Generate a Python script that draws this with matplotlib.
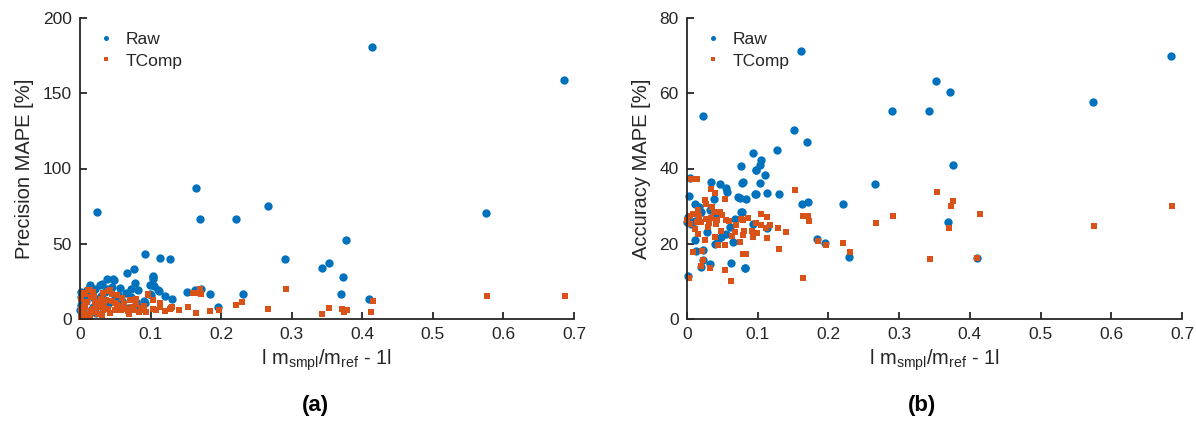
import numpy as np
import matplotlib
matplotlib.use("Agg")
import matplotlib.pyplot as plt

plt.rcParams['font.family'] = ['Liberation Sans', 'DejaVu Sans']
plt.rcParams['mathtext.fontset'] = 'custom'
plt.rcParams['mathtext.rm'] = 'Liberation Sans'
plt.rcParams['mathtext.it'] = 'Liberation Sans'

BLUE = '#0072BD'
ORANGE = '#D95319'
DARK = '#262626'

# ---- panel (a): precision MAPE ----
prec_raw_x = [0.414, 0.686, 0.576, 0.377, 0.353, 0.343, 0.372, 0.370, 0.410,
              0.164, 0.170, 0.2206, 0.267, 0.1128, 0.128, 0.2905, 0.103, 0.103,
              0.112, 0.1515, 0.163, 0.172, 0.184, 0.130, 0.1955, 0.2305, 0.101,
              0.0244, 0.0925, 0.067, 0.0763, 0.1033, 0.0386, 0.048, 0.0465, 0.0773,
              0.0986, 0.056, 0.082, 0.110, 0.0925, 0.0135, 0.0206, 0.0017, 0.000,
              0.031, 0.0726, 0.0986, 0.0277, 0.0145, 0.002, 0.008, 0.012, 0.018,
              0.030, 0.045, 0.060, 0.065, 0.040, 0.085, 0.020, 0.035, 0.005, 0.025,
              0.001, 0.010, 0.016, 0.022, 0.050, 0.058, 0.072, 0.090, 0.105, 0.120,
              0.003, 0.028, 0.038, 0.054, 0.068, 0.080]
prec_raw_y = [180.7, 158.8, 70.5, 52.5, 37.2, 33.7, 28.1, 16.3, 13.5,
              87.0, 66.5, 66.5, 75.0, 40.8, 39.7, 39.9, 28.3, 26.5,
              18.5, 17.9, 19.0, 20.1, 16.8, 13.5, 7.9, 16.5, 15.7,
              71.0, 43.0, 30.5, 33.5, 27.9, 26.8, 26.1, 26.8, 24.1,
              22.3, 20.8, 19.0, 19.0, 10.5, 22.3, 20.1, 14.5, 5.7,
              23.5, 14.5, 16.8, 22.3, 21.2, 9.0, 12.0, 16.0, 8.0,
              15.0, 21.0, 12.0, 17.0, 10.0, 8.0, 14.0, 18.0, 3.0, 11.0,
              18.0, 19.0, 6.0, 4.0, 14.0, 9.0, 20.0, 12.0, 22.0, 15.0,
              12.0, 9.0, 20.0, 16.0, 7.0, 11.0]

prec_tc_x = [0.343, 0.353, 0.371, 0.374, 0.378, 0.412, 0.415, 0.577, 0.687,
             0.164, 0.172, 0.1695, 0.2915, 0.1525, 0.164, 0.1847, 0.1965, 0.2215,
             0.230, 0.267, 0.128, 0.130, 0.113, 0.114, 0.104, 0.103,
             0.004, 0.0135, 0.018, 0.0394, 0.045, 0.0528, 0.030, 0.037, 0.0206,
             0.0064, 0.0017, 0.0088, 0.0206, 0.0323, 0.039, 0.049, 0.058, 0.068,
             0.077, 0.084, 0.063, 0.080, 0.097, 0.103, 0.114, 0.114, 0.094,
             0.129, 0.153, 0.160, 0.016, 0.025, 0.0135, 0.0064, 0.049, 0.011,
             0.042, 0.080, 0.096, 0.003, 0.026, 0.055, 0.070, 0.088,
             0.001, 0.007, 0.012, 0.020, 0.027, 0.034, 0.043, 0.060, 0.074, 0.086,
             0.002, 0.015, 0.023, 0.031, 0.046, 0.065, 0.090, 0.108, 0.120, 0.140,
             0.005, 0.010, 0.019, 0.033, 0.052, 0.071]
prec_tc_y = [3.2, 7.2, 6.5, 4.5, 5.9, 4.5, 11.9, 15.2, 15.2,
             17.4, 16.8, 20.1, 19.9, 7.9, 3.9, 5.2, 5.7, 9.2,
             11.2, 6.5, 6.8, 7.9, 8.3, 10.8, 12.3, 6.8,
             17.2, 19.5, 17.9, 18.5, 16.8, 15.7, 13.5, 12.3, 11.2,
             10.1, 5.7, 2.3, 4.5, 5.7, 6.8, 6.1, 5.7, 5.2,
             5.7, 4.5, 10.1, 9.7, 16.3, 12.3, 10.1, 7.9, 4.5,
             7.5, 7.9, 17.2, 14.5, 7.9, 1.2, 16.8, 10.5, 19.0,
             19.5, 13.5, 15.7, 8.0, 3.0, 8.5, 3.5, 6.0,
             13.0, 8.0, 3.5, 15.0, 11.0, 9.0, 4.0, 14.0, 8.0, 7.0,
             1.5, 5.0, 9.5, 2.5, 12.0, 6.5, 8.5, 6.0, 5.0, 6.0,
             4.5, 11.5, 6.5, 17.0, 9.0, 12.5]

# ---- panel (b): accuracy MAPE ----
acc_raw_x = [0.6846, 0.352, 0.3715, 0.290, 0.3427, 0.574, 0.3758, 0.2664, 0.369, 0.410,
             0.161, 0.0226, 0.1513, 0.170, 0.1277, 0.093, 0.104, 0.103, 0.0976, 0.1108,
             0.0764, 0.0788, 0.103, 0.0966, 0.1127, 0.1297, 0.0834, 0.075, 0.162, 0.1716,
             0.220, 0.077, 0.093, 0.1127, 0.1835, 0.1957, 0.2296, 0.082,
             0.0038, 0.0028, 0.0344, 0.047, 0.0547, 0.0566, 0.0378, 0.0109, 0.017, 0.032,
             0.078, 0.072, 0.098, 0.097, 0.000, 0.006, 0.020, 0.078, 0.0604,
             0.0485, 0.0109, 0.044, 0.065, 0.013, 0.0226, 0.020, 0.032, 0.0627, 0.0816,
             0.0014, 0.0226, 0.039, 0.001, 0.012, 0.028, 0.040, 0.055, 0.068]
acc_raw_y = [70.0, 63.2, 60.3, 55.2, 55.3, 57.8, 40.8, 35.8, 25.9, 16.3,
             71.1, 53.9, 50.3, 47.0, 44.8, 44.1, 42.3, 40.8, 39.5, 38.4,
             40.7, 36.3, 36.1, 33.2, 33.6, 33.2, 31.9, 32.2, 30.6, 31.2,
             30.5, 28.5, 25.3, 24.3, 21.3, 20.3, 16.4, 13.6,
             37.6, 32.6, 36.4, 35.8, 34.9, 33.7, 32.0, 30.6, 29.9, 29.0,
             36.1, 32.4, 39.5, 33.3, 25.7, 25.3, 28.4, 28.4, 24.4,
             21.9, 20.9, 21.3, 20.4, 18.2, 18.4, 13.8, 14.5, 14.8, 13.6,
             11.3, 15.6, 20.0, 27.0, 26.0, 23.0, 27.5, 22.5, 26.5]

acc_tc_x = [0.353, 0.376, 0.373, 0.4145, 0.291, 0.267, 0.370, 0.343, 0.410, 0.5757, 0.686,
            0.1528, 0.1636, 0.171, 0.1726, 0.104, 0.1127, 0.077, 0.0976, 0.104, 0.1287,
            0.1117, 0.0806, 0.0915, 0.0986, 0.0797, 0.093, 0.1127, 0.075, 0.1297, 0.0797,
            0.0834, 0.185, 0.1966, 0.220, 0.2305, 0.1636,
            0.006, 0.0141, 0.0344, 0.039, 0.025, 0.0264, 0.0358, 0.0533, 0.0156, 0.0378,
            0.0038, 0.047, 0.017, 0.0273, 0.0344, 0.0556, 0.0038, 0.020, 0.0415, 0.0697,
            0.0109, 0.0297, 0.0485, 0.079, 0.0674, 0.0156, 0.039, 0.025, 0.044, 0.0533,
            0.0085, 0.0216, 0.079, 0.0226, 0.020, 0.032, 0.0533, 0.0627, 0.0028, 0.000,
            0.008, 0.014, 0.031, 0.042, 0.050, 0.060, 0.064, 0.086, 0.118, 0.140]
acc_tc_y = [33.7, 31.3, 30.0, 27.9, 27.3, 25.5, 24.1, 15.9, 16.3, 24.7, 30.0,
            34.2, 27.3, 27.3, 26.0, 27.8, 27.1, 26.6, 25.5, 25.1, 24.1,
            24.1, 23.5, 23.4, 22.8, 22.2, 21.8, 21.5, 20.4, 18.6, 17.3,
            17.3, 20.7, 19.8, 20.3, 17.7, 10.9,
            37.3, 37.3, 34.6, 33.5, 31.7, 30.6, 29.7, 32.0, 29.0, 28.4,
            27.3, 28.4, 27.3, 26.6, 26.9, 26.2, 25.3, 25.7, 25.3, 24.9,
            24.0, 24.4, 23.5, 26.4, 23.1, 22.7, 21.8, 20.9, 19.8, 19.8,
            17.8, 18.0, 17.3, 15.6, 14.0, 13.6, 12.9, 10.1, 11.0, 26.2,
            28.0, 25.8, 25.6, 26.4, 27.6, 26.0, 22.0, 26.8, 25.0, 23.0]

xticks = [0, 0.1, 0.2, 0.3, 0.4, 0.5, 0.6, 0.7]
xtick_labels = ['0', '0.1', '0.2', '0.3', '0.4', '0.5', '0.6', '0.7']
xlabel = r'l m$_{\rm smpl}$/m$_{\rm ref}$ - 1l'

fig = plt.figure(figsize=(11.96, 4.32), dpi=100)
ax1 = fig.add_axes([80 / 1196, 113 / 432, 494 / 1196, 301 / 432])
ax2 = fig.add_axes([687 / 1196, 113 / 432, 495 / 1196, 301 / 432])


def style(ax, ylim, yticks, ylabel, raw_x, raw_y, tc_x, tc_y):
    ax.plot(raw_x, raw_y, 'o', color=BLUE, markersize=6.0, markeredgewidth=0,
            label='Raw', clip_on=False)
    ax.plot(tc_x, tc_y, 's', color=ORANGE, markersize=4.5, markeredgewidth=0,
            label='TComp', clip_on=False)
    ax.set_xlim(0, 0.7)
    ax.set_ylim(*ylim)
    ax.set_xticks(xticks)
    ax.set_xticklabels(xtick_labels)
    ax.set_yticks(yticks)
    for s in ['top', 'right']:
        ax.spines[s].set_visible(False)
    for s in ['left', 'bottom']:
        ax.spines[s].set_color(DARK)
        ax.spines[s].set_linewidth(1.3)
    ax.tick_params(direction='in', length=5, width=1.3, colors=DARK,
                   labelsize=12.5, pad=6)
    ax.set_xlabel(xlabel, fontsize=14.5, color=DARK, labelpad=4)
    ax.set_ylabel(ylabel, fontsize=14.5, color=DARK, labelpad=6)
    leg = ax.legend(loc='upper left', bbox_to_anchor=(0.0, 1.005), frameon=False,
                    fontsize=12.5, markerscale=0.6, handletextpad=0.5,
                    handlelength=1.2, labelspacing=0.35)
    for t in leg.get_texts():
        t.set_color(DARK)


style(ax1, (0, 200), [0, 50, 100, 150, 200], 'Precision MAPE [%]',
      prec_raw_x, prec_raw_y, prec_tc_x, prec_tc_y)
style(ax2, (0, 80), [0, 20, 40, 60, 80], 'Accuracy MAPE [%]',
      acc_raw_x, acc_raw_y, acc_tc_x, acc_tc_y)

fig.text(315 / 1196, 1 - 405 / 432, '(a)', fontsize=16, fontweight='bold',
         ha='center', va='center', color='black')
fig.text(922 / 1196, 1 - 405 / 432, '(b)', fontsize=16, fontweight='bold',
         ha='center', va='center', color='black')

fig.savefig('out.png', dpi=100)
